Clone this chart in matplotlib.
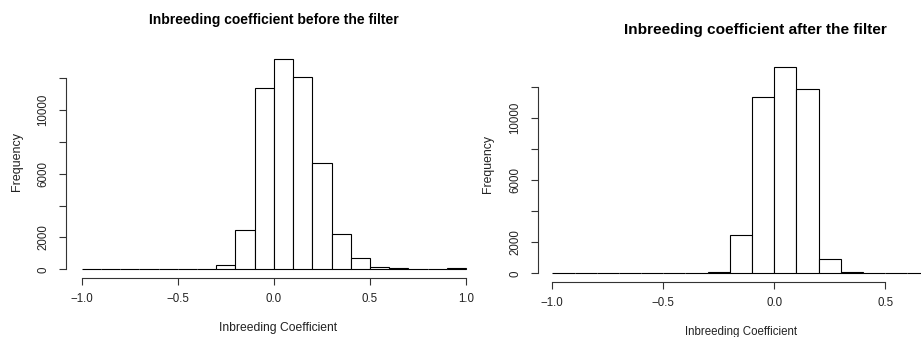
"""
Inbreeding coefficient histograms, before and after filtering
"""

import numpy as np
import matplotlib
matplotlib.use('Agg')
import matplotlib.pyplot as plt

plt.rcParams['font.family'] = ['Liberation Sans', 'DejaVu Sans']

# bin starts (width 0.1)
bins_before = [-1.0, -0.9, -0.8, -0.7, -0.6, -0.5, -0.4, -0.3, -0.2, -0.1,
               0.0, 0.1, 0.2, 0.3, 0.4, 0.5, 0.6, 0.7, 0.8, 0.9]
counts_before = [0, 0, 0, 0, 0, 0, 0, 250, 2450, 11380,
                 13230, 12110, 6690, 2200, 690, 130, 80, 0, 0, 80]

bins_after = [-1.0, -0.9, -0.8, -0.7, -0.6, -0.5, -0.4, -0.3, -0.2, -0.1,
              0.0, 0.1, 0.2, 0.3, 0.4, 0.5, 0.6]
counts_after = [0, 0, 0, 0, 0, 0, 0, 60, 2450, 11370,
                13260, 11850, 940, 80, 0, 0, 0]

y_ticks = [0, 2000, 4000, 6000, 8000, 10000, 12000]
y_labels = ['0', '2000', '', '6000', '', '10000', '']

W, H = 921, 337
fig = plt.figure(figsize=(W / 100, H / 100), dpi=100)


def px_axes(left, right, top, bottom):
    return fig.add_axes([left / W, 1 - bottom / H, (right - left) / W, (bottom - top) / H])


def draw_hist(ax, starts, counts, xlim, ylim, xticks, xtick_labels):
    ax.bar(starts, counts, width=0.1, align='edge', facecolor='white',
           edgecolor='black', linewidth=0.8)
    ax.set_xlim(*xlim)
    ax.set_ylim(*ylim)
    for s in ['top', 'right']:
        ax.spines[s].set_visible(False)
    ax.spines['left'].set_bounds(0, 12000)
    ax.spines['bottom'].set_bounds(xticks[0], xticks[-1])
    for s in ['left', 'bottom']:
        ax.spines[s].set_linewidth(0.8)
        ax.spines[s].set_color('#333333')
    ax.set_yticks(y_ticks)
    ax.set_yticklabels(y_labels, rotation=90, va='center')
    ax.set_xticks(xticks)
    ax.set_xticklabels(xtick_labels)
    ax.tick_params(axis='both', direction='out', length=5, width=0.8,
                   color='#333333', labelsize=8.3, labelcolor='#222222')
    ax.tick_params(axis='y', pad=7)
    ax.tick_params(axis='x', pad=6)
    ax.patch.set_visible(False)


ax1 = px_axes(66.3, 481.4, 50.5, 277.7)
draw_hist(ax1, bins_before, counts_before, (-1.08, 1.08), (-529, 13759),
          [-1.0, -0.5, 0.0, 0.5, 1.0], ['\u22121.0', '\u22120.5', '0.0', '0.5', '1.0'])

ax2 = px_axes(537.7, 921, 59.1, 281.5)
draw_hist(ax2, bins_after, counts_after, (-1.066, 0.662), (-530, 13790),
          [-1.0, -0.5, 0.0, 0.5], ['\u22121.0', '\u22120.5', '0.0', '0.5'])

# titles and axis labels
fig.text(273.5 / W, 1 - 20 / H, 'Inbreeding coefficient before the filter',
         ha='center', va='center', fontsize=10, fontweight='bold')
fig.text(755.5 / W, 1 - 30 / H, 'Inbreeding coefficient after the filter',
         ha='center', va='center', fontsize=11.1, fontweight='bold')
fig.text(17 / W, 1 - 162 / H, 'Frequency', rotation=90, ha='center', va='center',
         fontsize=9, color='#222222')
fig.text(488 / W, 1 - 164 / H, 'Frequency', rotation=90, ha='center', va='center',
         fontsize=8.8, color='#222222')
fig.text(278 / W, 1 - 328 / H, 'Inbreeding Coefficient', ha='center', va='center',
         fontsize=8.7, color='#222222')
fig.text(741 / W, 1 - 332 / H, 'Inbreeding Coefficient', ha='center', va='center',
         fontsize=8.3, color='#222222')

fig.savefig('out.png', dpi=100, facecolor='white')
